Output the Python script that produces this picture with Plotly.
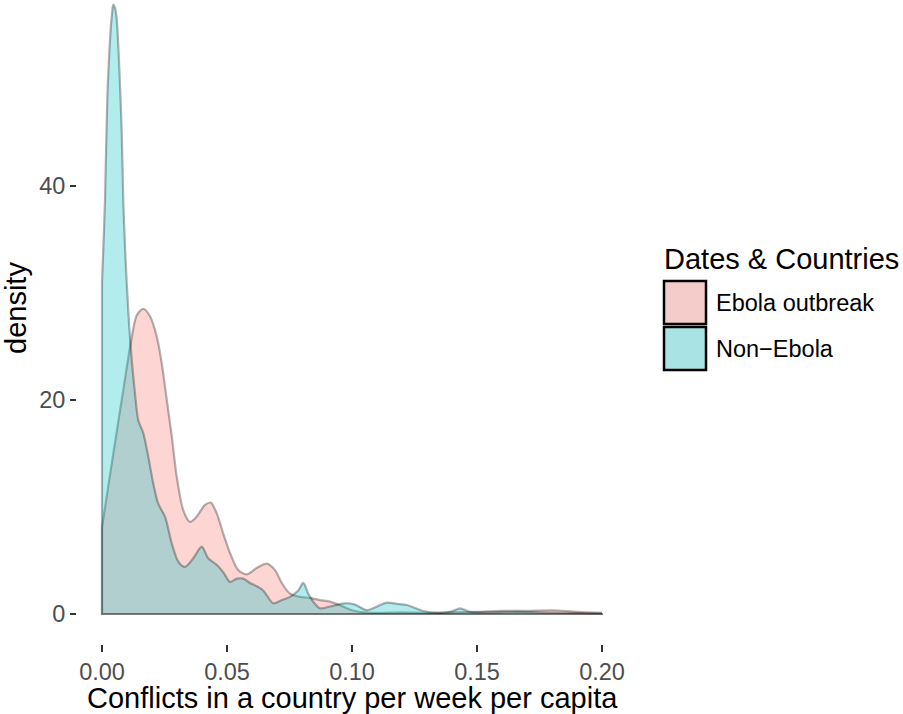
import plotly.graph_objects as go

# ---- data ----
ebola_x = [0, 0.004, 0.0085, 0.0115, 0.0139, 0.0165, 0.0192, 0.0219, 0.0239, 0.0259,
           0.0279, 0.0299, 0.0325, 0.0352, 0.0379, 0.0412, 0.0435, 0.0459, 0.0485, 0.0512,
           0.0545, 0.0579, 0.0619, 0.0659, 0.0692, 0.0719, 0.0752, 0.0792, 0.0832, 0.0872,
           0.0912, 0.095, 0.100, 0.105, 0.110, 0.120, 0.130, 0.140, 0.150, 0.160,
           0.170, 0.180, 0.190, 0.200]
ebola_y = [8.1, 14.2, 20.9, 25.3, 27.9, 28.5, 27.8, 25.9, 23.4, 20.0,
           16.6, 12.8, 9.7, 8.6, 9.1, 10.2, 10.4, 9.4, 7.5, 5.7,
           4.1, 3.7, 4.3, 4.7, 4.1, 2.9, 1.9, 1.6, 1.5, 1.3,
           1.15, 0.84, 0.35, 0.15, 0.1, 0.15, 0.1, 0.15, 0.2, 0.3,
           0.3, 0.35, 0.2, 0.1]

non_x = [0, 0.0005, 0.0012, 0.0021, 0.0032, 0.0039, 0.0045, 0.0052, 0.0059, 0.0069,
         0.0079, 0.0085, 0.0092, 0.0099, 0.0109, 0.0119, 0.0132, 0.0145, 0.0165, 0.0185,
         0.0205, 0.0225, 0.0252, 0.0279, 0.0305, 0.0332, 0.0365, 0.0399, 0.0425, 0.0459,
         0.0485, 0.0512, 0.0539, 0.0565, 0.0592, 0.0619, 0.0645, 0.0685, 0.0719, 0.0752,
         0.0785, 0.0805, 0.0825, 0.0845, 0.0872, 0.0912, 0.097, 0.101, 0.1059, 0.110,
         0.1139, 0.118, 0.1219, 0.1285, 0.135, 0.140, 0.1432, 0.1472, 0.155, 0.165,
         0.175, 0.185, 0.200]
non_y = [31, 34, 38.7, 48, 53.6, 55.8, 56.9, 56.6, 55.5, 51.1,
         44.9, 38.7, 34.3, 30.9, 26.8, 23.7, 20.6, 18.1, 16.9, 14.7,
         12.2, 10.3, 9.1, 6.6, 4.9, 4.4, 5.2, 6.3, 5.2, 4.6,
         3.9, 3.0, 3.3, 3.3, 2.9, 2.6, 2.2, 1.0, 1.3, 1.6,
         2.2, 2.9, 1.9, 1.15, 0.53, 0.7, 1.0, 0.9, 0.37, 0.7,
         1.06, 0.95, 0.84, 0.28, 0.1, 0.25, 0.53, 0.2, 0.15, 0.2,
         0.15, 0.1, 0.05]

groups = ["Ebola outbreak", "Non\u2212Ebola"]
x_ticks = [0, 0.05, 0.10, 0.15, 0.20]
x_tick_text = ["0.00", "0.05", "0.10", "0.15", "0.20"]
y_ticks = [0, 20, 40]

FONT = "Liberation Sans, Arial, sans-serif"
outline = dict(color="rgba(0,0,0,0.3)", width=2.2)
fills = ["rgba(248,118,109,0.3)", "rgba(0,191,196,0.3)"]
key_fills = ["#F4CDCA", "#A9E3E4"]

fig = go.Figure()
for xs, ys, fc in [(ebola_x, ebola_y, fills[0]), (non_x, non_y, fills[1])]:
    fig.add_trace(go.Scatter(x=xs, y=ys, mode="lines", fill="tozeroy", fillcolor=fc,
                             line=dict(shape="spline", smoothing=0.8, **outline),
                             hoverinfo="skip", showlegend=False))
    fig.add_trace(go.Scatter(x=[xs[0], xs[0], xs[-1], xs[-1]], y=[ys[0], 0, 0, ys[-1]],
                             mode="lines", line=outline, hoverinfo="skip", showlegend=False))

# plot area: x 77..627 px, y 0..644 px
L, R, T, B = 77, 627, 0, 644
W, H = 903, 714

def px(xp):
    return (xp - L) / (R - L)

def py(yp):
    return (B - yp) / (B - T)

fig.update_layout(
    width=W, height=H,
    margin=dict(l=L, r=W - R, t=T, b=H - B),
    paper_bgcolor="white", plot_bgcolor="white",
    font=dict(family=FONT),
    showlegend=False,
    xaxis=dict(range=[-0.01, 0.21], tickvals=x_ticks, ticktext=x_tick_text,
               ticks="outside", ticklen=7, tickwidth=2, tickcolor="#333333",
               showgrid=False, zeroline=False, showline=False,
               tickfont=dict(size=23.5, color="#4D4D4D", family=FONT)),
    yaxis=dict(range=[-2.8, 57.33], tickvals=y_ticks,
               ticks="outside", ticklen=6, tickwidth=2, tickcolor="#333333",
               showgrid=False, zeroline=False, showline=False,
               tickfont=dict(size=23.5, color="#4D4D4D", family=FONT)),
)

ann = []
ann.append(dict(text="Conflicts in a country per week per capita", x=px(352), y=py(698),
                xref="paper", yref="paper", xanchor="center", yanchor="middle",
                showarrow=False, font=dict(size=29, color="black", family=FONT)))
ann.append(dict(text="density", x=px(16), y=py(308), textangle=-90,
                xref="paper", yref="paper", xanchor="center", yanchor="middle",
                showarrow=False, font=dict(size=29, color="black", family=FONT)))
ann.append(dict(text="Dates &amp; Countries", x=px(662), y=py(259),
                xref="paper", yref="paper", xanchor="left", yanchor="middle",
                showarrow=False, font=dict(size=29, color="black", family=FONT)))

shapes = []
box_tops = [281, 327]
for i, g in enumerate(groups):
    top = box_tops[i]
    shapes.append(dict(type="rect", xref="paper", yref="paper",
                       x0=px(664), x1=px(706), y0=py(top + 43), y1=py(top),
                       fillcolor=key_fills[i], line=dict(color="black", width=2.5)))
    ann.append(dict(text=g, x=px(714), y=py(top + 22),
                    xref="paper", yref="paper", xanchor="left", yanchor="middle",
                    showarrow=False, font=dict(size=23.5, color="black", family=FONT)))

fig.update_layout(annotations=ann, shapes=shapes)
fig.write_html("out.html", config={"displayModeBar": False},
               post_script="document.body.style.margin='0';document.body.style.overflow='hidden';")
